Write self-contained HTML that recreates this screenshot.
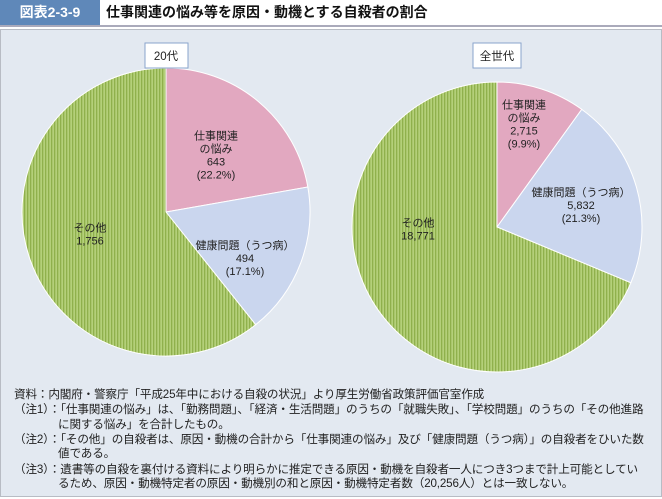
<!DOCTYPE html>
<html><head><meta charset="utf-8"><style>
body{margin:0;width:662px;height:499px;background:#fff;font-family:"Liberation Sans","Noto Sans CJK JP",sans-serif;position:relative;overflow:hidden}
.abs{position:absolute}
.note{position:absolute;font-size:11.6px;color:#222;white-space:nowrap;letter-spacing:-0.15px}
.lbl{font-size:11px;fill:#222;text-anchor:middle}
</style></head><body>
<div class="abs" style="left:0;top:0;width:100px;height:25px;background:#5f88b9;color:#fff;font-weight:bold;font-size:14px;line-height:25px;text-align:center">図表2-3-9</div>
<div class="abs" style="left:106px;top:0;height:25px;line-height:25px;font-weight:bold;font-size:14px;color:#111">仕事関連の悩み等を原因・動機とする自殺者の割合</div>
<div class="abs" style="left:0;top:25px;width:662px;height:2px;background:#aab"></div>
<div class="abs" style="left:0;top:29px;width:660px;height:466px;background:#e3e9f1;border:1px solid #b8bcc4"></div>
<svg class="abs" style="left:0;top:0" width="662" height="499">
<defs><pattern id="st" width="3" height="10" patternUnits="userSpaceOnUse"><rect width="3" height="10" fill="#b4d07a"/><rect width="1.3" height="10" fill="#8fb04c"/></pattern></defs>
<g id="pies"></g>
<rect x="145" y="43" width="43" height="25" fill="#fff" stroke="#8aa4cc"/>
<text x="166" y="60" class="lbl" style="font-size:11.5px">20代</text>
<rect x="473" y="43" width="48" height="25" fill="#fff" stroke="#8aa4cc"/>
<text x="497" y="60" class="lbl" style="font-size:11.5px">全世代</text>
</svg>
<div class="note" style="left:14px;top:386px">資料：内閣府・警察庁「平成25年中における自殺の状況」より厚生労働省政策評価官室作成</div>
<div class="note" style="left:14px;top:401px">（注1）：「仕事関連の悩み」は、「勤務問題」、「経済・生活問題」のうちの「就職失敗」、「学校問題」のうちの「その他進路</div>
<div class="note" style="left:58px;top:416px">に関する悩み」を合計したもの。</div>
<div class="note" style="left:14px;top:431px">（注2）：「その他」の自殺者は、原因・動機の合計から「仕事関連の悩み」及び「健康問題（うつ病）」の自殺者をひいた数</div>
<div class="note" style="left:58px;top:445px">値である。</div>
<div class="note" style="left:14px;top:461px">（注3）：遺書等の自殺を裏付ける資料により明らかに推定できる原因・動機を自殺者一人につき3つまで計上可能としてい</div>
<div class="note" style="left:58px;top:475px">るため、原因・動機特定者の原因・動機別の和と原因・動機特定者数（20,256人）とは一致しない。</div>
<script>
const categories=["仕事関連の悩み","健康問題（うつ病）","その他"];
const values20s=[643,494,1756];
const pct20s=["22.2%","17.1%",""];
const valuesAll=[2715,5832,18771];
const pctAll=["9.9%","21.3%",""];
const colors=["#e2a8c0","#cad6ee","url(#st)"];
const NS="http://www.w3.org/2000/svg";
const g=document.getElementById('pies');
function fmt(v){return v.toLocaleString('en-US');}
function pie(cx,cy,r,vals,pcts,key,labelOff){
  const tot=vals.reduce((a,b)=>a+b,0);let a0=0;
  vals.forEach((v,i)=>{
    const a1=a0+v/tot*2*Math.PI;
    const x0=cx+r*Math.sin(a0),y0=cy-r*Math.cos(a0),x1=cx+r*Math.sin(a1),y1=cy-r*Math.cos(a1);
    const p=document.createElementNS(NS,'path');
    p.setAttribute('d',`M${cx},${cy}L${x0},${y0}A${r},${r} 0 ${a1-a0>Math.PI?1:0} 1 ${x1},${y1}Z`);
    p.setAttribute('fill',colors[i]);p.setAttribute('stroke','#fff');p.setAttribute('stroke-width','1');
    
    
    g.appendChild(p);
    const lx=cx+labelOff[i][0],ly=cy+labelOff[i][1];
    let lines=(i==0?["仕事関連","の悩み"]:i==1?["健康問題（うつ病）"]:["その他"]);
    lines=lines.concat([fmt(v)]);if(pcts[i])lines.push("("+pcts[i]+")");
    const t=document.createElementNS(NS,'text');
    t.setAttribute('class','lbl');
    
    
    lines.forEach((s,k)=>{const ts=document.createElementNS(NS,'tspan');ts.setAttribute('x',lx);ts.setAttribute('y',ly+(k-(lines.length-1)/2)*13+4);ts.textContent=s;t.appendChild(ts);});
    g.appendChild(t);
    a0=a1;
  });
}
pie(166,212,144,values20s,pct20s,'pie-20s',[[50,-57],[79,46],[-76,22]]);
pie(497,227,145,valuesAll,pctAll,'pie-all',[[27,-103],[84,-22],[-79,2]]);
</script>
</body></html>
